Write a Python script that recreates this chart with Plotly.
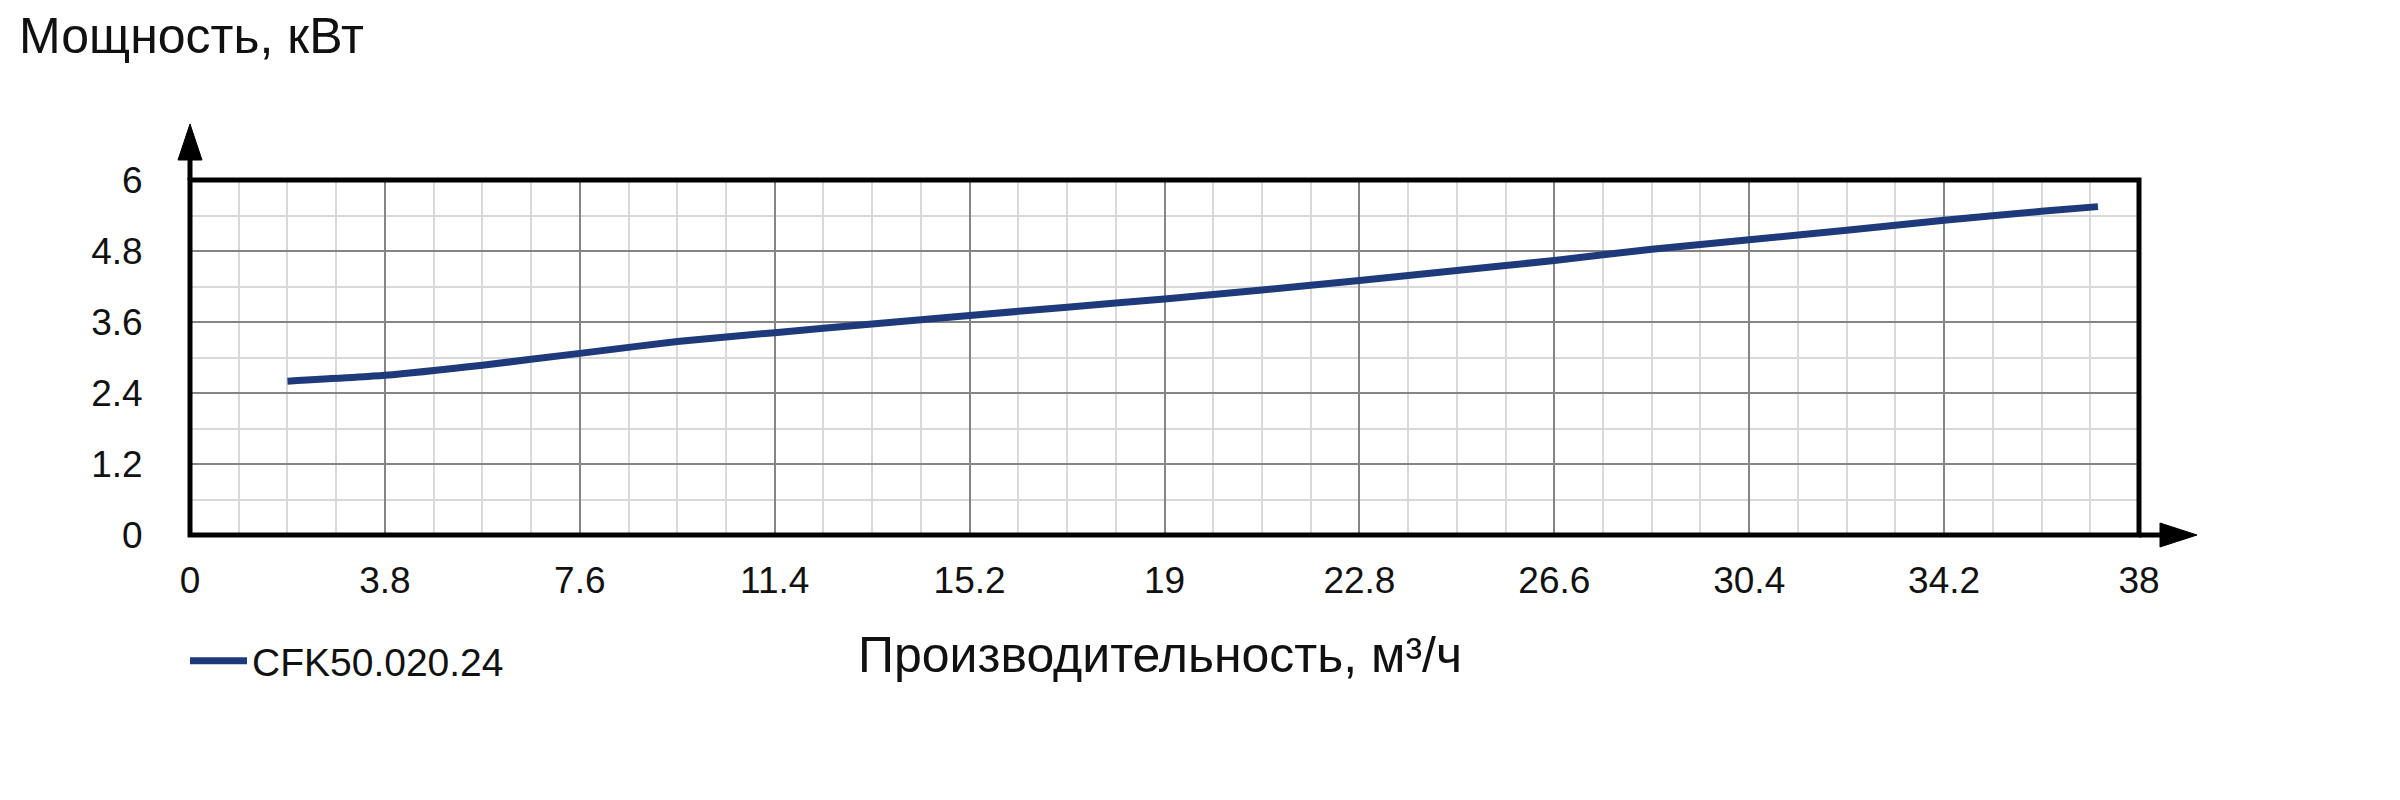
import plotly.graph_objects as go

# ---- data ----
flow = [1.9, 3.8, 5.7, 7.6, 9.5, 11.4, 13.3, 15.2, 17.1, 19.0, 20.9, 22.8,
        24.7, 26.6, 28.5, 30.4, 32.3, 34.2, 36.1, 37.2]
power = [2.60, 2.70, 2.87, 3.07, 3.27, 3.42, 3.565, 3.71, 3.85, 3.99, 4.14, 4.30,
         4.47, 4.64, 4.83, 4.99, 5.15, 5.32, 5.47, 5.55]
series_name = "CFK50.020.24"

x_ticks = [0, 3.8, 7.6, 11.4, 15.2, 19, 22.8, 26.6, 30.4, 34.2, 38]
x_ticklabels = ["0", "3.8", "7.6", "11.4", "15.2", "19", "22.8", "26.6", "30.4", "34.2", "38"]
y_ticks = [0, 1.2, 2.4, 3.6, 4.8, 6]
y_ticklabels = ["0", "1.2", "2.4", "3.6", "4.8", "6"]
x_minor = [i * 0.95 for i in range(41)]
y_minor = [i * 0.6 for i in range(11)]

y_title = "Мощность, кВт"
x_title = "Производительность, м³/ч"

# ---- layout geometry (screen px; page body has an 8px margin) ----
OFF = 8
W, H = 2400 - OFF, 800 - OFF
L, R, T, B = 190 - OFF, 261, 180 - OFF, 265
PW, PH = W - L - R, H - T - B

def px(x):
    """screen x -> paper x"""
    return (x - OFF - L) / PW

def py(y):
    """screen y -> paper y"""
    return (H - B - (y - OFF)) / PH

FONT = "Liberation Sans, Arial, sans-serif"
LINE_COLOR = "#1f3a7b"
TXT = "#111111"

fig = go.Figure()
fig.add_trace(go.Scatter(
    x=flow, y=power, mode="lines", name=series_name,
    line=dict(color=LINE_COLOR, width=7, shape="spline", smoothing=0.5),
    hoverinfo="skip",
))

axis_common = dict(
    showline=True, linecolor="rgba(0,0,0,0)", linewidth=5, mirror=True,
    showgrid=True, gridcolor="#858585", gridwidth=2,
    zeroline=False, ticks="",
    tickfont=dict(family=FONT, size=37, color=TXT),
)

fig.update_layout(
    width=W, height=H,
    margin=dict(l=L, r=R, t=T, b=B, autoexpand=False),
    paper_bgcolor="white", plot_bgcolor="white",
    font=dict(family=FONT, color=TXT),
    xaxis=dict(range=[0, 38], tickvals=x_ticks, ticktext=x_ticklabels,
               ticklabelstandoff=9,
               minor=dict(tickvals=x_minor, showgrid=True, gridcolor="#d9d9d9", gridwidth=1.5),
               **axis_common),
    yaxis=dict(range=[0, 6], tickvals=y_ticks, ticktext=y_ticklabels,
               ticklabelstandoff=35,
               minor=dict(tickvals=y_minor, showgrid=True, gridcolor="#d9d9d9", gridwidth=1.5),
               **axis_common),
    showlegend=True,
    legend=dict(x=px(185), y=py(661), xanchor="left", yanchor="middle",
                font=dict(family=FONT, size=39, color=TXT),
                bgcolor="rgba(0,0,0,0)", itemwidth=57),
    hovermode=False,
)

# plot frame, centred on the plot-area edges
fig.add_shape(type="rect", xref="paper", yref="paper", layer="above",
              x0=0, y0=0, x1=1, y1=1, line=dict(color="black", width=5))

# axis titles
fig.add_annotation(text=y_title, xref="paper", yref="paper",
                   x=px(17), y=py(36), xanchor="left", yanchor="middle",
                   showarrow=False, font=dict(family=FONT, size=50, color=TXT))
fig.add_annotation(text=x_title, xref="paper", yref="paper",
                   x=px(1160), y=py(655), xanchor="center", yanchor="middle",
                   showarrow=False, font=dict(family=FONT, size=50, color=TXT))

# axis arrows
fig.add_shape(type="line", xref="paper", yref="paper",
              x0=px(190), y0=py(180), x1=px(190), y1=py(158),
              line=dict(color="black", width=5))
fig.add_shape(type="path", xref="paper", yref="paper",
              path=f"M {px(178)},{py(160)} L {px(202)},{py(160)} L {px(190)},{py(124)} Z",
              fillcolor="black", line=dict(color="black", width=1))
fig.add_shape(type="line", xref="paper", yref="paper",
              x0=px(2139), y0=py(535), x1=px(2162), y1=py(535),
              line=dict(color="black", width=5))
fig.add_shape(type="path", xref="paper", yref="paper",
              path=f"M {px(2160)},{py(523)} L {px(2160)},{py(547)} L {px(2197)},{py(535)} Z",
              fillcolor="black", line=dict(color="black", width=1))

fig.write_html("out.html")
